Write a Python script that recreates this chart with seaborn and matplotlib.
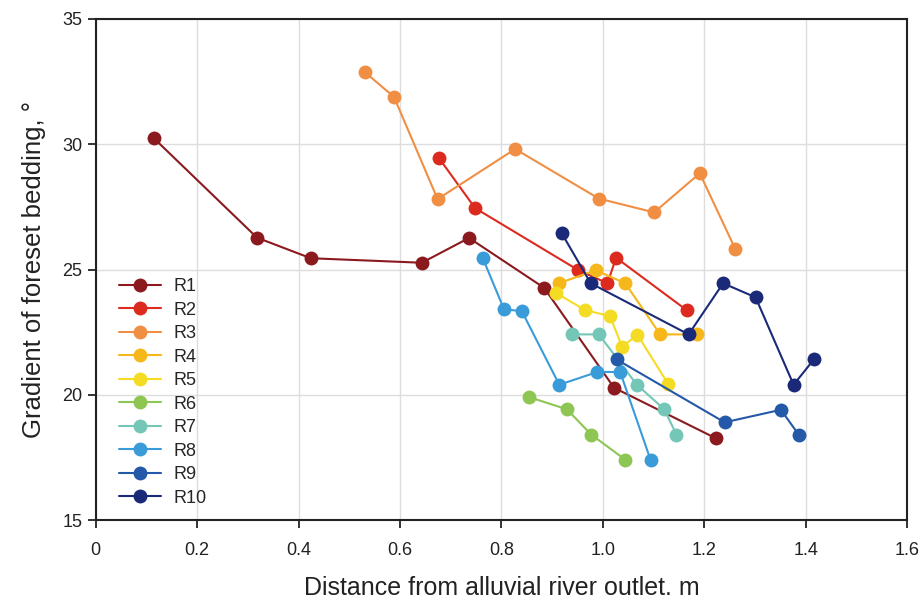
import matplotlib
matplotlib.use("Agg")
import matplotlib.pyplot as plt
import seaborn as sns
import pandas as pd

series_names = ["R1", "R2", "R3", "R4", "R5", "R6", "R7", "R8", "R9", "R10"]
colors = ["#8B1A1F", "#DD2A1F", "#F08F44", "#F5B719", "#F5DC24",
          "#8DC653", "#74C7B7", "#3A9BD9", "#2458A8", "#1A2A78"]

r1_x = [0.114, 0.318, 0.424, 0.643, 0.736, 0.884, 1.022, 1.223]
r1_y = [30.25, 26.27, 25.45, 25.27, 26.26, 24.27, 20.28, 18.26]
r2_x = [0.677, 0.748, 0.951, 1.009, 1.026, 1.165]
r2_y = [29.44, 27.45, 24.98, 24.45, 25.47, 23.38]
r3_x = [0.531, 0.588, 0.674, 0.827, 0.992, 1.101, 1.191, 1.261]
r3_y = [32.87, 31.89, 27.81, 29.81, 27.83, 27.28, 28.84, 25.82]
r4_x = [0.914, 0.986, 1.044, 1.113, 1.185]
r4_y = [24.46, 24.97, 24.45, 22.41, 22.41]
r5_x = [0.907, 0.965, 1.014, 1.038, 1.068, 1.129]
r5_y = [24.07, 23.38, 23.14, 21.91, 22.40, 20.42]
r6_x = [0.854, 0.929, 0.977, 1.044]
r6_y = [19.91, 19.42, 18.41, 17.41]
r7_x = [0.939, 0.992, 1.067, 1.121, 1.145]
r7_y = [22.41, 22.41, 20.40, 19.42, 18.41]
r8_x = [0.763, 0.805, 0.840, 0.914, 0.989, 1.034, 1.094]
r8_y = [25.46, 23.41, 23.34, 20.40, 20.91, 20.91, 17.40]
r9_x = [1.027, 1.240, 1.351, 1.386]
r9_y = [21.41, 18.90, 19.40, 18.41]
r10_x = [0.919, 0.976, 1.169, 1.237, 1.301, 1.376, 1.416]
r10_y = [26.44, 24.45, 22.41, 24.45, 23.89, 20.40, 21.41]

xs = [r1_x, r2_x, r3_x, r4_x, r5_x, r6_x, r7_x, r8_x, r9_x, r10_x]
ys = [r1_y, r2_y, r3_y, r4_y, r5_y, r6_y, r7_y, r8_y, r9_y, r10_y]

rows = []
for name, xv, yv in zip(series_names, xs, ys):
    for i, (a, b) in enumerate(zip(xv, yv)):
        rows.append({"series": name, "order": i, "x": a, "y": b})
df = pd.DataFrame(rows)

sns.set_style("white")
plt.rcParams["font.family"] = ["Liberation Sans", "DejaVu Sans"]

fig = plt.figure(figsize=(9.21, 6.03), dpi=100)
ax = fig.add_axes([0.104, 0.1376, 0.881, 0.8309])

sns.lineplot(data=df, x="x", y="y", hue="series", hue_order=series_names,
             palette=dict(zip(series_names, colors)), sort=False,
             marker="o", markersize=10, markeredgewidth=0, linewidth=1.5,
             estimator=None, ax=ax)

ax.set_xlim(0, 1.6)
ax.set_ylim(15, 35)
ax.set_xticks([0, 0.2, 0.4, 0.6, 0.8, 1.0, 1.2, 1.4, 1.6])
ax.set_xticklabels(["0", "0.2", "0.4", "0.6", "0.8", "1.0", "1.2", "1.4", "1.6"])
ax.set_yticks([15, 20, 25, 30, 35])
ax.grid(True, color="#DDDDDD", linewidth=1)
ax.set_axisbelow(True)
for s in ax.spines.values():
    s.set_color("#222222")
    s.set_linewidth(1.5)
ax.tick_params(axis="both", direction="out", length=6, width=1.3, color="#222222",
               labelsize=13, labelcolor="#222222", bottom=True, left=True)
ax.tick_params(axis="x", pad=10)
ax.set_xlabel("Distance from alluvial river outlet. m", fontsize=18, labelpad=12, color="#222222")
ax.set_ylabel("Gradient of foreset bedding, °", fontsize=18.5, labelpad=12, color="#222222")

handles, labels = ax.get_legend_handles_labels()
leg = ax.legend(handles, labels, loc="upper left", bbox_to_anchor=(0.02, 0.497),
                frameon=False, fontsize=13, handlelength=2.3, labelspacing=0.36,
                handletextpad=0.7, borderaxespad=0)

fig.savefig("out.png", dpi=100)
